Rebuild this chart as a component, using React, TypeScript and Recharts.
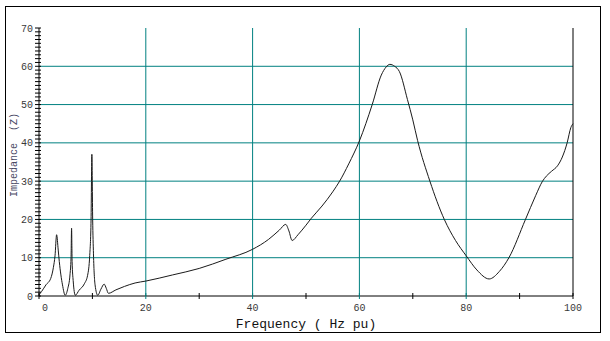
import { LineChart, Line, XAxis, YAxis, ReferenceLine, Label } from "recharts"

const frequency = [
  0, 0.5, 1.3, 2.2, 2.7, 3.0, 3.3, 3.6, 3.8, 4.1, 4.4, 4.9, 5.4, 5.8, 6.0, 6.1, 6.2, 6.4, 6.8,
  7.5, 8.5, 9.1, 9.5, 9.75, 9.9, 10.05, 10.2, 10.5, 11.0, 11.6, 12.2, 12.6, 13.0, 14.4, 16, 18,
  20, 25, 30, 35, 40, 43, 45, 46.2, 46.8, 47.4, 48.5, 50, 51, 53, 55, 56.3, 58, 60, 62.4, 64.1,
  65, 65.7, 66.6, 67.5, 69, 70, 70.9, 73.2, 75.9, 78, 80, 82, 84.3, 86.2, 88, 91.1, 93, 94.3,
  95, 96, 97.1, 98, 98.9, 99.6, 100,
]
const impedance = [
  0.3, 1.2, 2.9, 4.6, 7.5, 10.5, 16, 12, 9, 5.5, 2.9, 0.2, 2, 5.5, 10, 17.7, 9, 4, 0.2,
  1.5, 3.2, 5.4, 10.6, 20, 37, 20, 11, 2.9, 0.2, 1.8, 3.1, 2, 0.7, 1.6, 2.5, 3.4,
  3.9, 5.5, 7.2, 9.6, 12.2, 14.8, 17.2, 18.7, 17, 14.5, 16, 18.5, 20.3, 23.5, 27.2, 30, 34.5, 40.5, 50, 57.7,
  59.8, 60.5, 60, 58.6, 51.3, 46, 40.6, 30, 20, 14.5, 10.5, 6.8, 4.45, 6.4, 10, 20, 26.2, 30,
  31.3, 32.6, 34, 36.3, 40, 44, 45,
]

const xTicks = [0, 10, 20, 30, 40, 50, 60, 70, 80, 90, 100]
const yTicks = Array.from({ length: 71 }, (_, i) => i)
const hGrid = [10, 20, 30, 40, 50, 60]
const vGrid = [20, 40, 60, 80]

const data = frequency.map((f, i) => ({ f, z: impedance[i] }))

const FONT = "'Courier New', 'Liberation Mono', monospace"
const TEAL = "#008080"

const XTick = (props: any) => {
  const { x, y, payload } = props
  const v = payload.value
  const major = v % 20 === 0
  return (
    <g>
      <line x1={x} x2={x} y1={y - 3} y2={y + 3} stroke={major && v > 0 && v < 100 ? TEAL : "#000"} />
      {major && (
        <text x={v === 0 ? x + 6 : x} y={y + 15} textAnchor="middle" fontSize={10} fontFamily={FONT} fill="#3a3a3a">
          {v}
        </text>
      )}
    </g>
  )
}

const YTickLeft = (props: any) => {
  const { x, y, payload } = props
  const v = payload.value
  return (
    <g>
      <line x1={x - 4} x2={x + 2} y1={y} y2={y} stroke="#000" />
      {v % 10 === 0 && (
        <text x={x - 6} y={y} dy="0.35em" textAnchor="end" fontSize={10} fontFamily={FONT} fill="#3a3a3a">
          {v}
        </text>
      )}
    </g>
  )
}

const YTickRight = (props: any) => {
  const { x, y } = props
  return <line x1={x - 3} x2={x} y1={y} y2={y} stroke="#000" />
}

export default function App() {
  return (
    <div style={{ position: "absolute", left: 0, top: 0, width: 610, height: 341, background: "#fff" }}>
      <div
        style={{
          position: "absolute",
          left: 5,
          top: 6,
          width: 596,
          height: 327,
          border: "1px solid #000",
          boxSizing: "border-box",
        }}
      />
      <div style={{ position: "absolute", left: 0, top: 0 }}>
        <LineChart width={610} height={341} data={data} margin={{ top: 28, right: 17, bottom: 15, left: 9 }}>
          <XAxis
            dataKey="f"
            type="number"
            domain={[0, 100]}
            ticks={xTicks}
            interval={0}
            tickSize={0}
            tickMargin={0}
            height={30}
            stroke="#000"
            tick={<XTick />}
          >
            <Label
              content={() => (
                <text x={306} y={328} textAnchor="middle" fontSize={13} fontFamily={FONT} fill="#111">
                  Frequency ( Hz pu)
                </text>
              )}
            />
          </XAxis>
          <YAxis
            yAxisId="left"
            type="number"
            domain={[0, 70]}
            ticks={yTicks}
            interval={0}
            tickSize={0}
            tickMargin={0}
            width={30}
            stroke="#000"
            tick={<YTickLeft />}
          >
            <Label
              content={() => (
                <text
                  x={13}
                  y={155}
                  dy="0.35em"
                  textAnchor="middle"
                  transform="rotate(-90 13 155)"
                  fontSize={10}
                  fontFamily={FONT}
                  fill="#4a4a66"
                  style={{ whiteSpace: "pre" }}
                >
                  Impedance  (Z)
                </text>
              )}
            />
          </YAxis>
          <YAxis
            yAxisId="right"
            orientation="right"
            type="number"
            domain={[0, 70]}
            ticks={yTicks}
            interval={0}
            tickSize={0}
            tickMargin={0}
            width={20}
            stroke="#000"
            tick={<YTickRight />}
          />
          {hGrid.map((v) => (
            <ReferenceLine key={"h" + v} yAxisId="left" y={v} stroke={TEAL} strokeWidth={1} />
          ))}
          {vGrid.map((v) => (
            <ReferenceLine key={"v" + v} yAxisId="left" x={v} stroke={TEAL} strokeWidth={1} />
          ))}
          <Line
            yAxisId="left"
            dataKey="z"
            type="monotone"
            stroke="#1a1a1a"
            strokeWidth={1}
            dot={false}
            isAnimationActive={false}
          />
        </LineChart>
      </div>
    </div>
  )
}
